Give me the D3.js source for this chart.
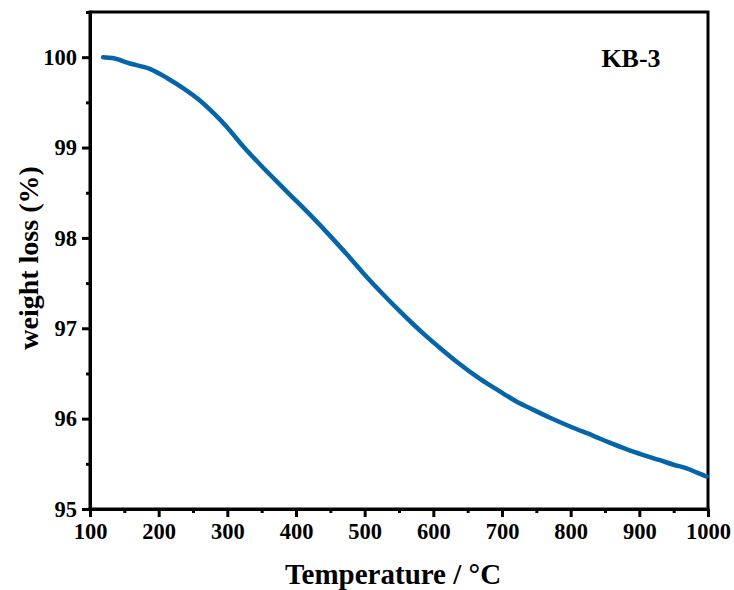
<!DOCTYPE html>
<html>
<head>
<meta charset="utf-8">
<script src="https://cdn.jsdelivr.net/npm/d3@7"></script>
<style>
body { margin: 0; background: #fff; }
svg { display: block; }
.axis path, .axis line { stroke: #000; stroke-width: 3; }
.axis text { font-family: "Liberation Serif", "Times New Roman", serif; font-weight: bold; font-size: 22.5px; fill: #000; }
.title { font-family: "Liberation Serif", "Times New Roman", serif; font-weight: bold; fill: #000; }
</style>
</head>
<body>
<div class="container"></div>
<script>
const W = 734, H = 590;
const LEFT = 90, RIGHT = 708, TOP = 12, BOTTOM = 509;

// TGA curve
var temps   = [119, 133, 158, 187, 212, 235, 260, 280, 299, 320, 348, 370, 391, 420, 450, 475, 498, 525, 547, 570, 590, 610, 634, 668, 695, 721, 745, 770, 800, 833, 855, 882, 905, 930, 950, 969, 985, 998];
var weights = [100.0, 99.99, 99.93, 99.87, 99.77, 99.66, 99.52, 99.38, 99.23, 99.04, 98.81, 98.64, 98.48, 98.26, 98.02, 97.81, 97.61, 97.39, 97.22, 97.05, 96.91, 96.78, 96.63, 96.44, 96.31, 96.19, 96.10, 96.01, 95.91, 95.81, 95.74, 95.66, 95.60, 95.54, 95.49, 95.45, 95.40, 95.36];
var xTicks = [100, 200, 300, 400, 500, 600, 700, 800, 900, 1000];
var yTicks = [95, 96, 97, 98, 99, 100];
var sampleName = "KB-3";

var draw = function(){
    var svg = d3.select(".container").append("svg")
        .attr("width", W)
        .attr("height", H);

    var x = d3.scaleLinear().domain([100, 1000]).range([LEFT, RIGHT]);
    var y = d3.scaleLinear().domain([95, 100.5]).range([BOTTOM, TOP]);

    var xMinor = d3.range(150, 1000, 100);
    var yMinor = d3.range(95.5, 100.6, 1);

    // frame top and right
    svg.append("path")
        .attr("d", "M" + LEFT + "," + TOP + "H" + RIGHT + "V" + BOTTOM)
        .attr("fill", "none")
        .attr("stroke", "#000")
        .attr("stroke-width", 3);

    // minor ticks
    svg.append("g").attr("class", "axis")
        .attr("transform", "translate(0," + BOTTOM + ")")
        .call(d3.axisBottom(x).tickValues(xMinor).tickSize(4).tickSizeOuter(0).tickFormat(""));
    svg.append("g").attr("class", "axis")
        .attr("transform", "translate(" + LEFT + ",0)")
        .call(d3.axisLeft(y).tickValues(yMinor).tickSize(4).tickSizeOuter(0).tickFormat(""));

    // major ticks
    var gx = svg.append("g").attr("class", "axis")
        .attr("transform", "translate(0," + BOTTOM + ")")
        .call(d3.axisBottom(x).tickValues(xTicks).tickSize(8).tickSizeOuter(0).tickPadding(6).tickFormat(d3.format("d")));
    var gy = svg.append("g").attr("class", "axis")
        .attr("transform", "translate(" + LEFT + ",0)")
        .call(d3.axisLeft(y).tickValues(yTicks).tickSize(8).tickSizeOuter(0).tickPadding(5).tickFormat(d3.format("d")));
    gx.selectAll("path.domain").attr("d", "M" + (LEFT - 1.5) + ",0H" + (RIGHT + 1.5));
    gy.selectAll("path.domain").attr("d", "M0," + (BOTTOM + 1.5) + "V" + (TOP - 1.5));

    // curve
    var pts = temps.map(function(t, i){ return [t, weights[i]]; });
    svg.append("path")
        .datum(pts)
        .attr("fill", "none")
        .attr("stroke", "#0565a8")
        .attr("stroke-width", 4.5)
        .attr("stroke-linecap", "round")
        .attr("stroke-linejoin", "round")
        .attr("d", d3.line().x(function(d){ return x(d[0]); }).y(function(d){ return y(d[1]); }).curve(d3.curveMonotoneX));

    // titles
    svg.append("text").attr("class", "title")
        .attr("x", 393)
        .attr("y", 584)
        .attr("text-anchor", "middle")
        .style("font-size", "29px")
        .text("Temperature / \u00b0C");
    svg.append("text").attr("class", "title")
        .attr("transform", "translate(38," + 258 + ") rotate(-90)")
        .attr("text-anchor", "middle")
        .style("font-size", "28px")
        .text("weight loss (%)");
    svg.append("text").attr("class", "title")
        .attr("x", 631)
        .attr("y", 67)
        .attr("text-anchor", "middle")
        .style("font-size", "26px")
        .text(sampleName);
};

window.onload = draw;
</script>
</body>
</html>
